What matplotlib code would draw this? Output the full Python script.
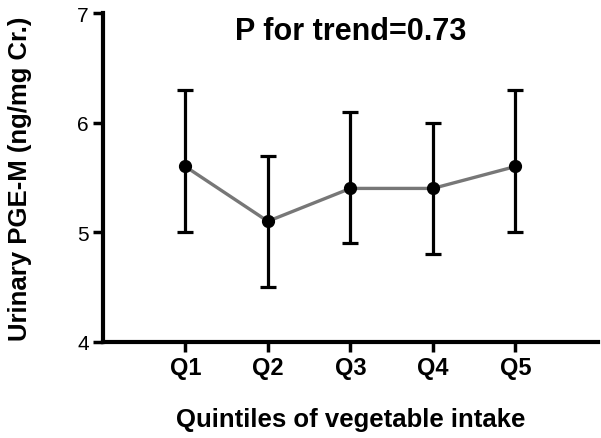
import matplotlib
matplotlib.use("Agg")
import matplotlib.pyplot as plt
import numpy as np

plt.rcParams['font.family'] = ['Liberation Sans', 'DejaVu Sans']

# data
quintiles = ["Q1", "Q2", "Q3", "Q4", "Q5"]
means = [5.6, 5.1, 5.4, 5.4, 5.6]
upper = [6.3, 5.7, 6.1, 6.0, 6.3]
lower = [5.0, 4.5, 4.9, 4.8, 5.0]

x = np.arange(1, len(quintiles) + 1)
yerr = [np.array(means) - np.array(lower), np.array(upper) - np.array(means)]

fig = plt.figure(figsize=(6.01, 4.39), dpi=100)
ax = fig.add_axes([0.171, 0.219, 0.824, 0.749])

ax.plot(x, means, color="#777777", lw=2.4, zorder=2)
ax.errorbar(x, means, yerr=yerr, fmt="o", color="black", ms=8.5,
            elinewidth=2.3, capsize=5.5, capthick=2.3, zorder=3)

ax.set_xlim(0, 6)
ax.set_ylim(4, 7)
ax.set_xticks(x)
ax.set_xticklabels(quintiles, fontsize=17, fontweight="bold")
ax.set_yticks([4, 5, 6, 7])
ax.set_yticklabels(["4", "5", "6", "7"], fontsize=15)

for s in ["top", "right"]:
    ax.spines[s].set_visible(False)
for s in ["left", "bottom"]:
    ax.spines[s].set_linewidth(3)
ax.tick_params(direction="out", length=7, width=2.5, pad=3)

ax.set_xlabel("Quintiles of vegetable intake", fontsize=18.5, fontweight="bold")
ax.xaxis.set_label_coords(0.5, -0.197)
ax.set_ylabel("Urinary PGE-M (ng/mg Cr.)", fontsize=18.5, fontweight="bold")
ax.yaxis.set_label_coords(-0.142, 0.5)

ax.text(3.0, 6.84, "P for trend=0.73", ha="center", va="center",
        fontsize=22, fontweight="bold")

fig.savefig("out.png", dpi=100)
